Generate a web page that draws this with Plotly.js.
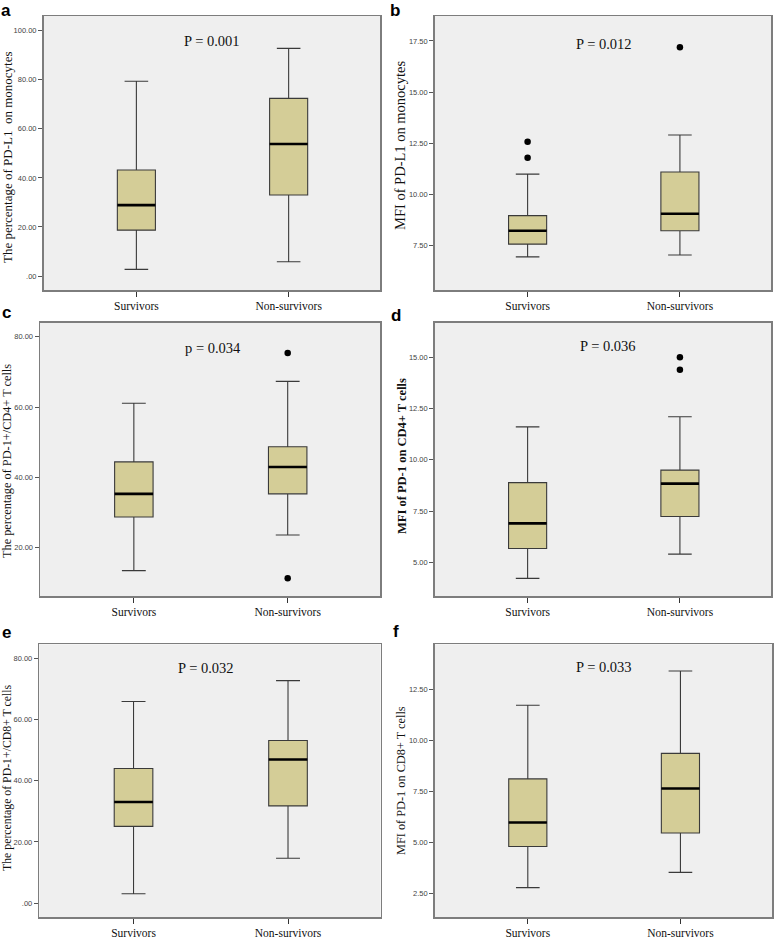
<!DOCTYPE html>
<html>
<head>
<meta charset="utf-8">
<script src="https://cdn.plot.ly/plotly-3.0.1.min.js"></script>
<style>
  html, body { margin: 0; padding: 0; background: #fff; }
  #chart { width: 778px; height: 939px; }
</style>
</head>
<body>
<div id="chart"></div>
<script>
/* groups on every x axis */
const groups = ['Survivors', 'Non-survivors'];

/* a: percentage of PD-L1 on monocytes */
const aLow  = [2.7, 5.8];
const aQ1   = [18.7, 33.0];
const aMed  = [28.9, 53.8];
const aQ3   = [43.2, 72.4];
const aHigh = [79.4, 92.8];
const aOutX = [];
const aOutY = [];
const aTickVals = [0, 20, 40, 60, 80, 100];
const aTickText = ['.00', '20.00', '40.00', '60.00', '80.00', '100.00'];

/* b: MFI of PD-L1 on monocytes */
const bLow  = [6.96, 7.05];
const bQ1   = [7.58, 8.23];
const bMed  = [8.23, 9.06];
const bQ3   = [8.97, 11.1];
const bHigh = [11.0, 12.91];
const bOutX = ['Survivors', 'Survivors', 'Non-survivors'];
const bOutY = [12.58, 11.8, 17.2];
const bTickVals = [7.5, 10, 12.5, 15, 17.5];
const bTickText = ['7.50', '10.00', '12.50', '15.00', '17.50'];

/* c: percentage of PD-1+/CD4+ T cells */
const cLow  = [13.45, 23.6];
const cQ1   = [28.7, 35.3];
const cMed  = [35.3, 42.96];
const cQ3   = [44.4, 48.7];
const cHigh = [61.1, 67.3];
const cOutX = ['Non-survivors', 'Non-survivors'];
const cOutY = [75.4, 11.3];
const cTickVals = [20, 40, 60, 80];
const cTickText = ['20.00', '40.00', '60.00', '80.00'];

/* d: MFI of PD-1 on CD4+ T cells */
const dLow  = [4.22, 5.4];
const dQ1   = [5.68, 7.24];
const dMed  = [6.9, 8.84];
const dQ3   = [8.89, 9.5];
const dHigh = [11.61, 12.1];
const dOutX = ['Non-survivors', 'Non-survivors'];
const dOutY = [15.0, 14.4];
const dTickVals = [5, 7.5, 10, 12.5, 15];
const dTickText = ['5.00', '7.50', '10.00', '12.50', '15.00'];

/* e: percentage of PD-1+/CD8+ T cells */
const eLow  = [3.03, 14.66];
const eQ1   = [25.1, 31.8];
const eMed  = [33.1, 47.0];
const eQ3   = [44.07, 53.2];
const eHigh = [66.0, 72.8];
const eOutX = [];
const eOutY = [];
const eTickVals = [0, 20, 40, 60, 80];
const eTickText = ['.00', '20.00', '40.00', '60.00', '80.00'];

/* f: MFI of PD-1 on CD8+ T cells */
const fLow  = [2.77, 3.52];
const fQ1   = [4.79, 5.45];
const fMed  = [5.96, 7.63];
const fQ3   = [8.1, 9.35];
const fHigh = [11.71, 13.39];
const fOutX = [];
const fOutY = [];
const fTickVals = [2.5, 5, 7.5, 10, 12.5];
const fTickText = ['2.50', '5.00', '7.50', '10.00', '12.50'];

/* colours / fonts */
const boxFill   = '#d4cd97';
const boxLine   = '#3a3a3a';
const frameCol  = '#7d7d7d';
const plotBg    = '#efefef';
const serif     = '"Liberation Serif", "Times New Roman", serif';
const sans      = '"Liberation Sans", Arial, sans-serif';

const W = 778, H = 939;
const px = v => v / W;
const py = v => 1 - v / H;

// panel settings (pixel boxes measured from the reference)
// lPos: [x centre, y top] of the panel letter
const panels = [
  { key: 'a', low: aLow, q1: aQ1, med: aMed, q3: aQ3, high: aHigh, ox: aOutX, oy: aOutY,
    tv: aTickVals, tt: aTickText, range: [-5.7, 106],
    box: [43.5, 380, 16, 290], p: 'P = 0.001', pPos: [212, 41],
    title: 'The percentage of PD-L1  on monocytes', tSize: 13, tBold: false, tPos: [7, 157], lPos: [6, 0] },
  { key: 'b', low: bLow, q1: bQ1, med: bMed, q3: bQ3, high: bHigh, ox: bOutX, oy: bOutY,
    tv: bTickVals, tt: bTickText, range: [5.34, 18.72],
    box: [434.7, 771.3, 16, 290], p: 'P = 0.012', pPos: [604, 44],
    title: 'MFI of PD-L1 on monocytes', tSize: 14.5, tBold: false, tPos: [400, 145], lPos: [395, 0] },
  { key: 'c', low: cLow, q1: cQ1, med: cMed, q3: cQ3, high: cHigh, ox: cOutX, oy: cOutY,
    tv: cTickVals, tt: cTickText, range: [6.24, 84],
    box: [40, 380, 322.7, 596], p: 'p = 0.034', pPos: [213, 348],
    title: 'The percentage of PD-1+/CD4+ T cells', tSize: 12.3, tBold: false, tPos: [7, 461], lPos: [6, 302] },
  { key: 'd', low: dLow, q1: dQ1, med: dMed, q3: dQ3, high: dHigh, ox: dOutX, oy: dOutY,
    tv: dTickVals, tt: dTickText, range: [3.36, 16.69],
    box: [434.7, 771.3, 322.7, 596], p: 'P = 0.036', pPos: [608, 346],
    title: 'MFI of PD-1 on CD4+ T cells', tSize: 12.5, tBold: true, tPos: [402, 456], lPos: [396, 305] },
  { key: 'e', low: eLow, q1: eQ1, med: eMed, q3: eQ3, high: eHigh, ox: eOutX, oy: eOutY,
    tv: eTickVals, tt: eTickText, range: [-4.56, 84.7],
    box: [39.3, 380.7, 644.3, 917], p: 'P = 0.032', pPos: [206, 668],
    title: 'The percentage of PD-1+/CD8+ T cells', tSize: 11.8, tBold: false, tPos: [7, 778], lPos: [6, 622] },
  { key: 'f', low: fLow, q1: fQ1, med: fMed, q3: fQ3, high: fHigh, ox: fOutX, oy: fOutY,
    tv: fTickVals, tt: fTickText, range: [1.33, 14.7],
    box: [434.7, 772, 644.3, 917], p: 'P = 0.033', pPos: [604, 667],
    title: 'MFI of PD-1 on CD8+ T cells', tSize: 12.3, tBold: false, tPos: [401, 781], lPos: [396, 621] }
];

const traces = [];
const layout = {
  width: W, height: H,
  margin: { l: 0, r: 0, t: 0, b: 0 },
  paper_bgcolor: '#fff',
  plot_bgcolor: plotBg,
  showlegend: false,
  boxmode: 'overlay',
  annotations: []
};

panels.forEach((pn, i) => {
  const n = i === 0 ? '' : String(i + 1);
  const xa = 'x' + n, ya = 'y' + n;

  // main box
  traces.push({
    type: 'box', orientation: 'v', x: groups,
    q1: pn.q1, median: pn.med, q3: pn.q3,
    lowerfence: pn.low, upperfence: pn.high,
    xaxis: xa, yaxis: ya,
    fillcolor: boxFill, line: { color: boxLine, width: 1.1 },
    width: 0.25, whiskerwidth: 0.62, boxpoints: false, hoverinfo: 'y'
  });
  // thicker median line on top
  traces.push({
    type: 'box', orientation: 'v', x: groups,
    q1: pn.med, median: pn.med, q3: pn.med,
    lowerfence: pn.med, upperfence: pn.med,
    xaxis: xa, yaxis: ya,
    fillcolor: 'rgba(0,0,0,0)', line: { color: '#000', width: 2.6 },
    width: 0.25, whiskerwidth: 0, boxpoints: false, hoverinfo: 'skip'
  });
  // outliers
  if (pn.ox.length) {
    traces.push({
      type: 'scatter', mode: 'markers', x: pn.ox, y: pn.oy,
      xaxis: xa, yaxis: ya,
      marker: { color: '#000', size: 6.5 }, hoverinfo: 'y'
    });
  }

  const [l, r, t, b] = pn.box;
  layout['xaxis' + n] = {
    domain: [px(l), px(r)], anchor: ya,
    type: 'category', range: [-0.61, 1.6],
    showline: true, mirror: true, linecolor: frameCol, linewidth: 1.5,
    ticks: 'outside', ticklen: 5, tickcolor: '#333', tickwidth: 1,
    tickfont: { family: serif, size: 11.5, color: '#111' },
    showgrid: false, zeroline: false, fixedrange: true
  };
  layout['yaxis' + n] = {
    domain: [py(b), py(t)], anchor: xa,
    range: pn.range,
    tickmode: 'array', tickvals: pn.tv, ticktext: pn.tt,
    showline: true, mirror: true, linecolor: frameCol, linewidth: 1.5,
    ticks: 'outside', ticklen: 4, tickcolor: '#555', tickwidth: 1,
    tickfont: { family: sans, size: 7.5, color: '#444' },
    showgrid: false, zeroline: false, fixedrange: true
  };

  // p value
  layout.annotations.push({
    xref: 'paper', yref: 'paper', x: px(pn.pPos[0]), y: py(pn.pPos[1]),
    xanchor: 'center', yanchor: 'middle', showarrow: false,
    text: pn.p, font: { family: serif, size: 14.5, color: '#111' }
  });
  // y title
  layout.annotations.push({
    xref: 'paper', yref: 'paper', x: px(pn.tPos[0]), y: py(pn.tPos[1]),
    xanchor: 'center', yanchor: 'middle', showarrow: false, textangle: -90,
    text: pn.tBold ? '<b>' + pn.title + '</b>' : pn.title,
    font: { family: serif, size: pn.tSize, color: '#111' }
  });
  // panel letter
  layout.annotations.push({
    xref: 'paper', yref: 'paper', x: px(pn.lPos[0]), y: py(pn.lPos[1]),
    xanchor: 'center', yanchor: 'top', showarrow: false, borderpad: 0,
    text: '<b>' + pn.key + '</b>', font: { family: sans, size: 17, color: '#000' }
  });
});

Plotly.newPlot('chart', traces, layout, { displayModeBar: false, staticPlot: true });
</script>
</body>
</html>
